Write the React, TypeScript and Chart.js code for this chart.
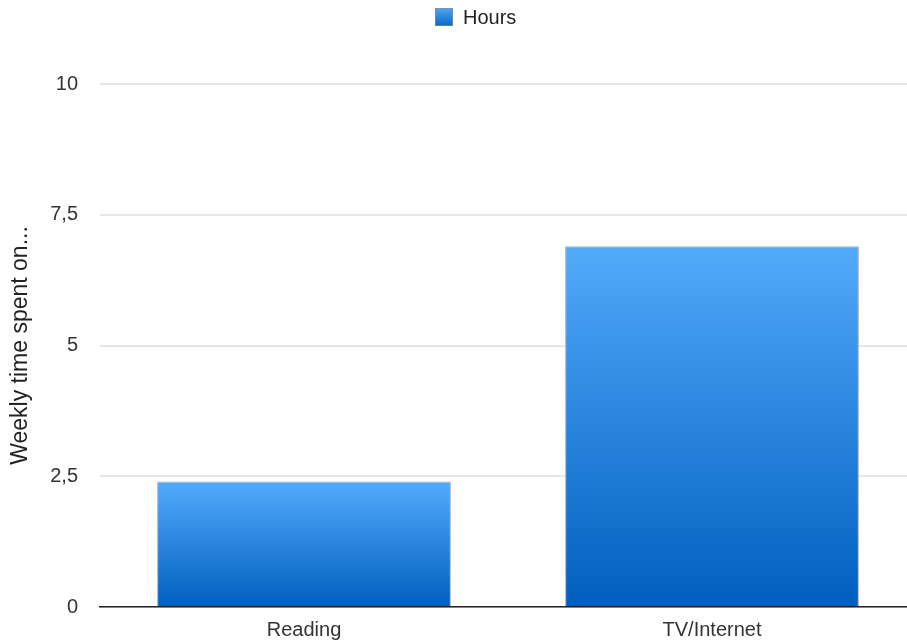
import React, { useEffect, useRef } from "react";
import { Chart, registerables } from "chart.js";

Chart.register(...registerables);

const categories = ["Reading", "TV/Internet"];
const seriesLabel = "Hours";
const hours = [2.4, 6.9];
const yTicks = [0, 2.5, 5, 7.5, 10];
const yTitle = "Weekly time spent on...";

const FONT = "'Liberation Sans', Arial, Helvetica, sans-serif";
const TOP_COLOR = "#52aafa";
const BOTTOM_COLOR = "#005fbf";

const legendPlugin = {
  id: "customLegend",
  afterDraw(chart: any) {
    const ctx = chart.ctx;
    ctx.save();
    const bx = 435, by = 8, bs = 18;
    const g = ctx.createLinearGradient(0, by, 0, by + bs);
    g.addColorStop(0, "#4ea6f4");
    g.addColorStop(1, "#0a66c8");
    ctx.fillStyle = g;
    ctx.fillRect(bx, by, bs, bs);
    ctx.strokeStyle = "rgba(140,140,140,0.7)";
    ctx.lineWidth = 1;
    ctx.strokeRect(bx + 0.5, by + 0.5, bs - 1, bs - 1);
    ctx.fillStyle = "#222";
    ctx.font = `20px ${FONT}`;
    ctx.textBaseline = "middle";
    ctx.textAlign = "left";
    ctx.fillText(seriesLabel, bx + bs + 10, by + bs / 2 + 1);
    ctx.restore();
  },
};

export default function App() {
  const ref = useRef<HTMLCanvasElement | null>(null);

  useEffect(() => {
    const canvas = ref.current;
    if (!canvas) return;
    const chart = new Chart(canvas, {
      type: "bar",
      data: {
        labels: categories,
        datasets: [
          {
            label: seriesLabel,
            data: hours,
            backgroundColor: (ctx: any) => {
              const c = ctx.chart;
              const area = c.chartArea;
              const ys = c.scales && c.scales.y;
              if (!area || !ys || ctx.parsed == null) return "#2a80e0";
              const top = ys.getPixelForValue(ctx.parsed.y);
              const bottom = ys.getPixelForValue(0);
              const g = c.ctx.createLinearGradient(0, top, 0, bottom);
              g.addColorStop(0, TOP_COLOR);
              g.addColorStop(1, BOTTOM_COLOR);
              return g;
            },
            borderColor: "rgba(150,150,150,0.8)",
            borderWidth: { top: 1, left: 1, right: 1, bottom: 0 },
            borderSkipped: "bottom",
          } as any,
        ],
      },
      options: {
        responsive: false,
        animation: false,
        layout: { padding: { top: 84, left: 0, right: 0, bottom: 0 } },
        plugins: {
          legend: { display: false },
          tooltip: { enabled: false },
        },
        scales: {
          x: {
            grid: { display: false },
            border: { display: true, color: "#222", width: 1.5 },
            ticks: { font: { family: FONT, size: 20 }, color: "#333", padding: 3 },
            afterFit: (s: any) => {
              s.height = 36;
            },
          },
          y: {
            min: 0,
            max: 10,
            afterBuildTicks: (s: any) => {
              s.ticks = yTicks.map((v) => ({ value: v }));
            },
            grid: { color: "#e6e6e6", lineWidth: 2, drawTicks: false },
            border: { display: false },
            ticks: {
              font: { family: FONT, size: 20 },
              color: "#333",
              padding: 22,
              callback: (v: any) => String(v).replace(".", ","),
            },
            title: {
              display: true,
              text: yTitle,
              font: { family: FONT, size: 23 },
              color: "#222",
              padding: { top: 7, bottom: 0 },
            },
            afterFit: (s: any) => {
              s.width = 100;
            },
          },
        },
      },
      plugins: [legendPlugin],
    });
    return () => chart.destroy();
  }, []);

  return (
    <div style={{ position: "absolute", left: 0, top: 0, width: 907, height: 643, overflow: "hidden", background: "#fff" }}>
      <canvas ref={ref} width={916} height={643} style={{ display: "block" }} />
    </div>
  );
}
